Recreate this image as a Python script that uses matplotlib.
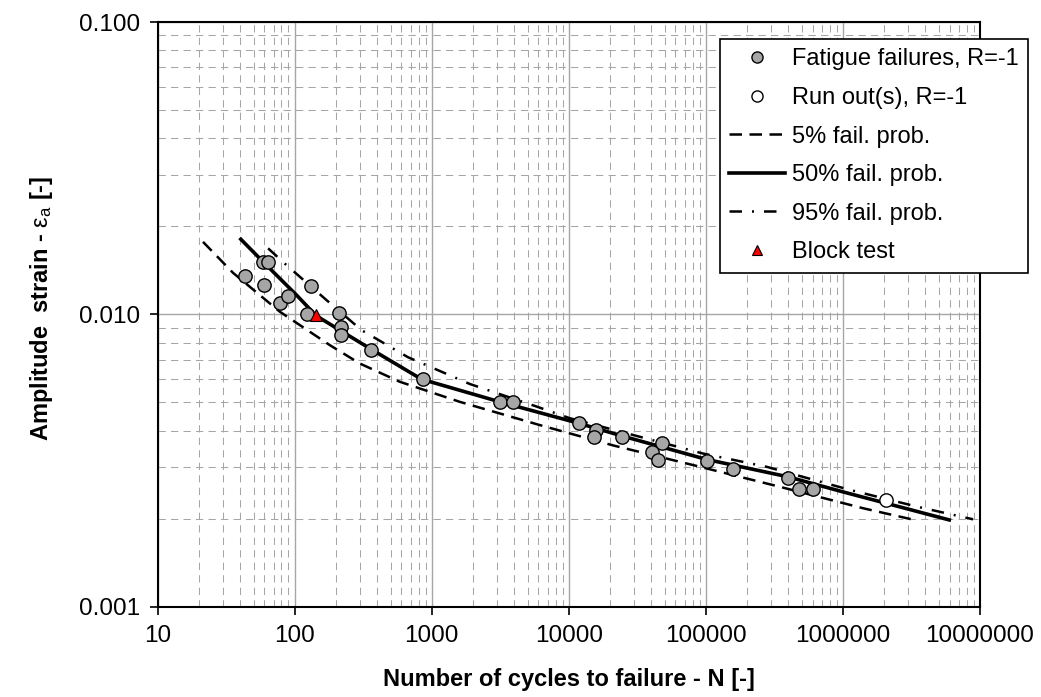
import matplotlib
matplotlib.use("Agg")
import matplotlib.pyplot as plt
from matplotlib.lines import Line2D
from matplotlib.ticker import FixedLocator, FixedFormatter, LogLocator, NullFormatter

plt.rcParams["font.family"] = ["Liberation Sans", "DejaVu Sans"]
plt.rcParams["mathtext.fontset"] = "custom"
plt.rcParams["mathtext.rm"] = "Liberation Sans"
plt.rcParams["mathtext.it"] = "Liberation Sans:italic"

# fatigue failures, R=-1 (cycles, strain amplitude)
fail_n = [43, 59, 64, 60, 78, 89, 132, 122, 210, 219, 216, 359, 865,
          3170, 3880, 11900, 15900, 15300, 24300, 48000, 40500, 44900,
          102700, 158000, 399000, 480000, 607000]
fail_eps = [0.01352, 0.01507, 0.01507, 0.01259, 0.01095, 0.01159, 0.01253,
            0.01002, 0.01008, 0.00907, 0.00850, 0.00755, 0.00600,
            0.00500, 0.00500, 0.00426, 0.00402, 0.00381, 0.00381, 0.00362,
            0.00339, 0.00318, 0.00316, 0.00296, 0.00275, 0.00252, 0.00252]

runout_n = [2050000]
runout_eps = [0.00232]

block_n = [142]
block_eps = [0.00995]

# fitted curves
p50_n = [40.4, 58.7, 103, 143, 213, 352, 841, 3130, 11400, 24300, 101000,
         399000, 1000000, 5970000]
p50_eps = [0.01807, 0.01513, 0.01164, 0.00990, 0.00883, 0.00765, 0.00600,
           0.00502, 0.00426, 0.00384, 0.00319, 0.00278, 0.00247, 0.00198]

p05_n = [21.4, 35.5, 77.8, 180, 298, 584, 1600, 6140, 21100, 85500, 347000,
         1410000, 3170000]
p05_eps = [0.0177, 0.01386, 0.01021, 0.00785, 0.00679, 0.00588, 0.00502,
           0.00418, 0.00356, 0.00303, 0.00257, 0.00217, 0.00199]

p95_n = [63.9, 84.5, 170, 307, 668, 1890, 5650, 10200, 95500, 277000,
         1120000, 3450000, 8900000]
p95_eps = [0.01682, 0.01492, 0.01120, 0.00883, 0.00714, 0.00578, 0.00486,
           0.00441, 0.00334, 0.00301, 0.00251, 0.00220, 0.00199]

xticks = [10, 100, 1000, 10000, 100000, 1000000, 10000000]
xtick_labels = ["10", "100", "1000", "10000", "100000", "1000000", "10000000"]
yticks = [0.001, 0.01, 0.1]
ytick_labels = ["0.001", "0.010", "0.100"]

fig = plt.figure(figsize=(10.41, 6.97), dpi=100)
ax = fig.add_axes([0.1515, 0.1296, 0.7899, 0.8388])
ax.set_xscale("log")
ax.set_yscale("log")
ax.set_xlim(10, 1e7)
ax.set_ylim(0.001, 0.1)

ax.xaxis.set_major_locator(FixedLocator(xticks))
ax.xaxis.set_major_formatter(FixedFormatter(xtick_labels))
ax.yaxis.set_major_locator(FixedLocator(yticks))
ax.yaxis.set_major_formatter(FixedFormatter(ytick_labels))
for axis in (ax.xaxis, ax.yaxis):
    axis.set_minor_locator(LogLocator(base=10, subs=range(2, 10), numticks=20))
    axis.set_minor_formatter(NullFormatter())
ax.tick_params(which="major", direction="out", length=6, width=1.2,
               labelsize=17.5, pad=7, colors="black")
ax.tick_params(which="minor", length=0)

ax.grid(which="major", color="#a6a6a6", lw=1.0, ls="-")
ax.grid(which="minor", color="#a6a6a6", lw=0.75, ls=(0, (7, 5)))
ax.set_axisbelow(True)
for sp in ax.spines.values():
    sp.set_linewidth(1.5)
    sp.set_color("black")

ax.plot(p05_n, p05_eps, color="black", lw=1.8, dashes=(5, 3), zorder=3)
ax.plot(p50_n, p50_eps, color="black", lw=2.6, ls="-", zorder=3)
ax.plot(p95_n, p95_eps, color="black", lw=1.8, dashes=(5, 4, 0.8, 4), zorder=3)

ax.plot(fail_n, fail_eps, ls="none", marker="o", ms=9.6, mfc="#a6a6a6",
        mec="black", mew=1.0, zorder=4)
ax.plot(runout_n, runout_eps, ls="none", marker="o", ms=9.6, mfc="white",
        mec="black", mew=1.0, zorder=4)
ax.plot(block_n, block_eps, ls="none", marker="^", ms=8, mfc="red",
        mec="black", mew=0.8, zorder=5)

ax.set_xlabel("Number of cycles to failure - N [-]", fontsize=17, fontweight="bold")
ax.xaxis.set_label_coords(0.5, -0.105)
ax.set_ylabel(r"Amplitude  strain - $\mathrm{ε_a}$ [-]", fontsize=17, fontweight="bold")
ax.yaxis.set_label_coords(-0.125, 0.51)

handles = [
    Line2D([], [], ls="none", marker="o", ms=8, mfc="#a6a6a6", mec="black", mew=1.0),
    Line2D([], [], ls="none", marker="o", ms=8, mfc="white", mec="black", mew=1.0),
    Line2D([], [], color="black", lw=1.8, dashes=(5, 3)),
    Line2D([], [], color="black", lw=2.6),
    Line2D([], [], color="black", lw=1.8, dashes=(5, 4, 0.8, 4)),
    Line2D([], [], ls="none", marker="^", ms=7.5, mfc="red", mec="black", mew=0.8),
]
labels = ["Fatigue failures, R=-1", "Run out(s), R=-1", "5% fail. prob.",
          "50% fail. prob.", "95% fail. prob.", "Block test"]
leg = ax.legend(handles, labels, loc="upper left", bbox_to_anchor=(720 / 1041, 1 - 39 / 697),
                bbox_transform=fig.transFigure, fontsize=17, frameon=True, fancybox=False,
                framealpha=1, edgecolor="black", handlelength=2.35, handletextpad=0.3,
                borderpad=0.4, labelspacing=0.7, borderaxespad=0)
leg.get_frame().set_linewidth(1.2)
leg.set_zorder(10)

fig.savefig("out.png", dpi=100)
